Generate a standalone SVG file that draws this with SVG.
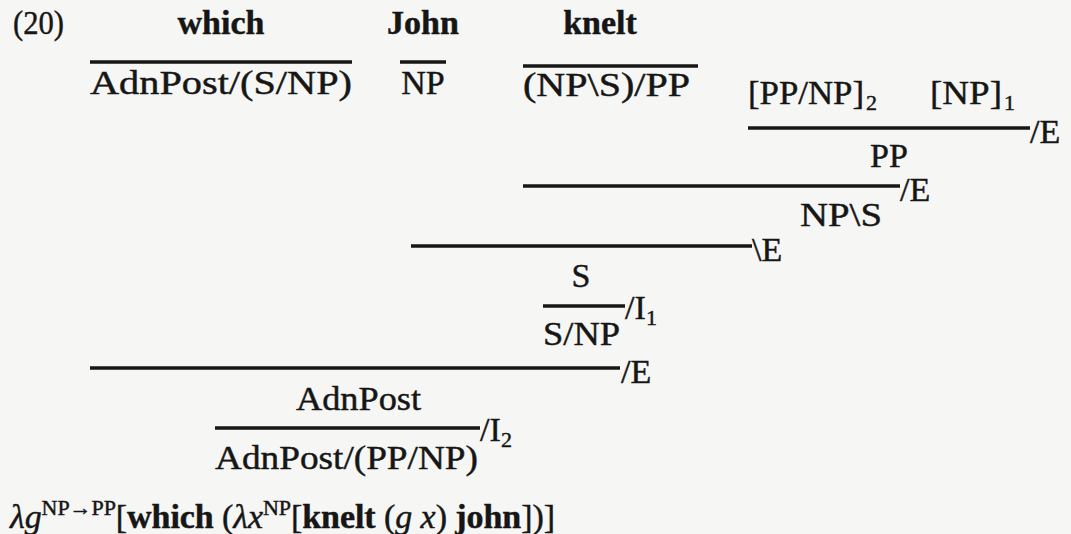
<svg xmlns="http://www.w3.org/2000/svg" width="1071" height="534" viewBox="0 0 1071 534">
<style>
text{font-family:"Liberation Serif","Times New Roman",serif;fill:#161616;stroke:#161616;stroke-width:0.45;font-size:34px}
.b{font-weight:bold}
.m{text-anchor:middle}
.sub{font-size:22px}
.sup{font-size:22px}
.it{font-style:italic}
line{stroke:#161616;stroke-width:3.4}
</style>
<rect width="1071" height="534" fill="#f6f6f4"/>
<g id="label"><text x="13" y="34" textLength="51" lengthAdjust="spacingAndGlyphs">(20)</text></g>
<g id="which"><text class="b m" x="221" y="34">which</text></g>
<g id="which-cat"><text x="90" y="94" textLength="262" lengthAdjust="spacingAndGlyphs">AdnPost/(S/NP)</text></g>
<g id="john"><text class="b m" x="423" y="34">John</text></g>
<g id="john-cat"><text class="m" x="423" y="94">NP</text></g>
<g id="knelt"><text class="b m" x="600" y="34">knelt</text></g>
<g id="knelt-cat"><text x="523" y="96" textLength="167" lengthAdjust="spacingAndGlyphs">(NP\S)/PP</text></g>
<g id="hyp2"><text x="748" y="104" textLength="116" lengthAdjust="spacingAndGlyphs">[PP/NP]</text><text class="sub" x="866" y="110">2</text></g>
<g id="hyp1"><text x="930" y="104" textLength="72" lengthAdjust="spacingAndGlyphs">[NP]</text><text class="sub" x="1004" y="110">1</text></g>
<g id="pp"><text class="m" x="889" y="167">PP</text></g>
<g id="nps"><text x="800" y="226" textLength="82" lengthAdjust="spacingAndGlyphs">NP\S</text></g>
<g id="s"><text class="m" x="581" y="287">S</text></g>
<g id="snp"><text x="543" y="345" textLength="77" lengthAdjust="spacingAndGlyphs">S/NP</text></g>
<g id="adnpost"><text x="296" y="410" textLength="125" lengthAdjust="spacingAndGlyphs">AdnPost</text></g>
<g id="adnpost-cat"><text x="215" y="469" textLength="263" lengthAdjust="spacingAndGlyphs">AdnPost/(PP/NP)</text></g>
<g id="term"><text x="10" y="528" textLength="545" lengthAdjust="spacing"><tspan class="it">λg</tspan><tspan class="sup" dy="-13">NP→PP</tspan><tspan dy="13">[</tspan><tspan class="b">which</tspan> (<tspan class="it">λx</tspan><tspan class="sup" dy="-13">NP</tspan><tspan dy="13">[</tspan><tspan class="b">knelt</tspan> (<tspan class="it">g x</tspan>) <tspan class="b">john</tspan>])]</text></g>
<g id="connectors">
<line x1="90" y1="62" x2="352" y2="62"/>
<line x1="400" y1="62" x2="446" y2="62"/>
<line x1="523" y1="66" x2="698" y2="66"/>
<line x1="748" y1="128" x2="1030" y2="128"/>
<text x="1030" y="143">/E</text>
<line x1="523" y1="186" x2="900" y2="186"/>
<text x="900" y="201">/E</text>
<line x1="411" y1="246" x2="752" y2="246"/>
<text x="752" y="261">\E</text>
<line x1="543" y1="306" x2="625" y2="306"/>
<text x="625" y="319">/I</text><text class="sub" x="646" y="325">1</text>
<line x1="90" y1="368" x2="620" y2="368"/>
<text x="621" y="383">/E</text>
<line x1="215" y1="428" x2="480" y2="428"/>
<text x="480" y="441">/I</text><text class="sub" x="501" y="447">2</text>
</g>
</svg>
